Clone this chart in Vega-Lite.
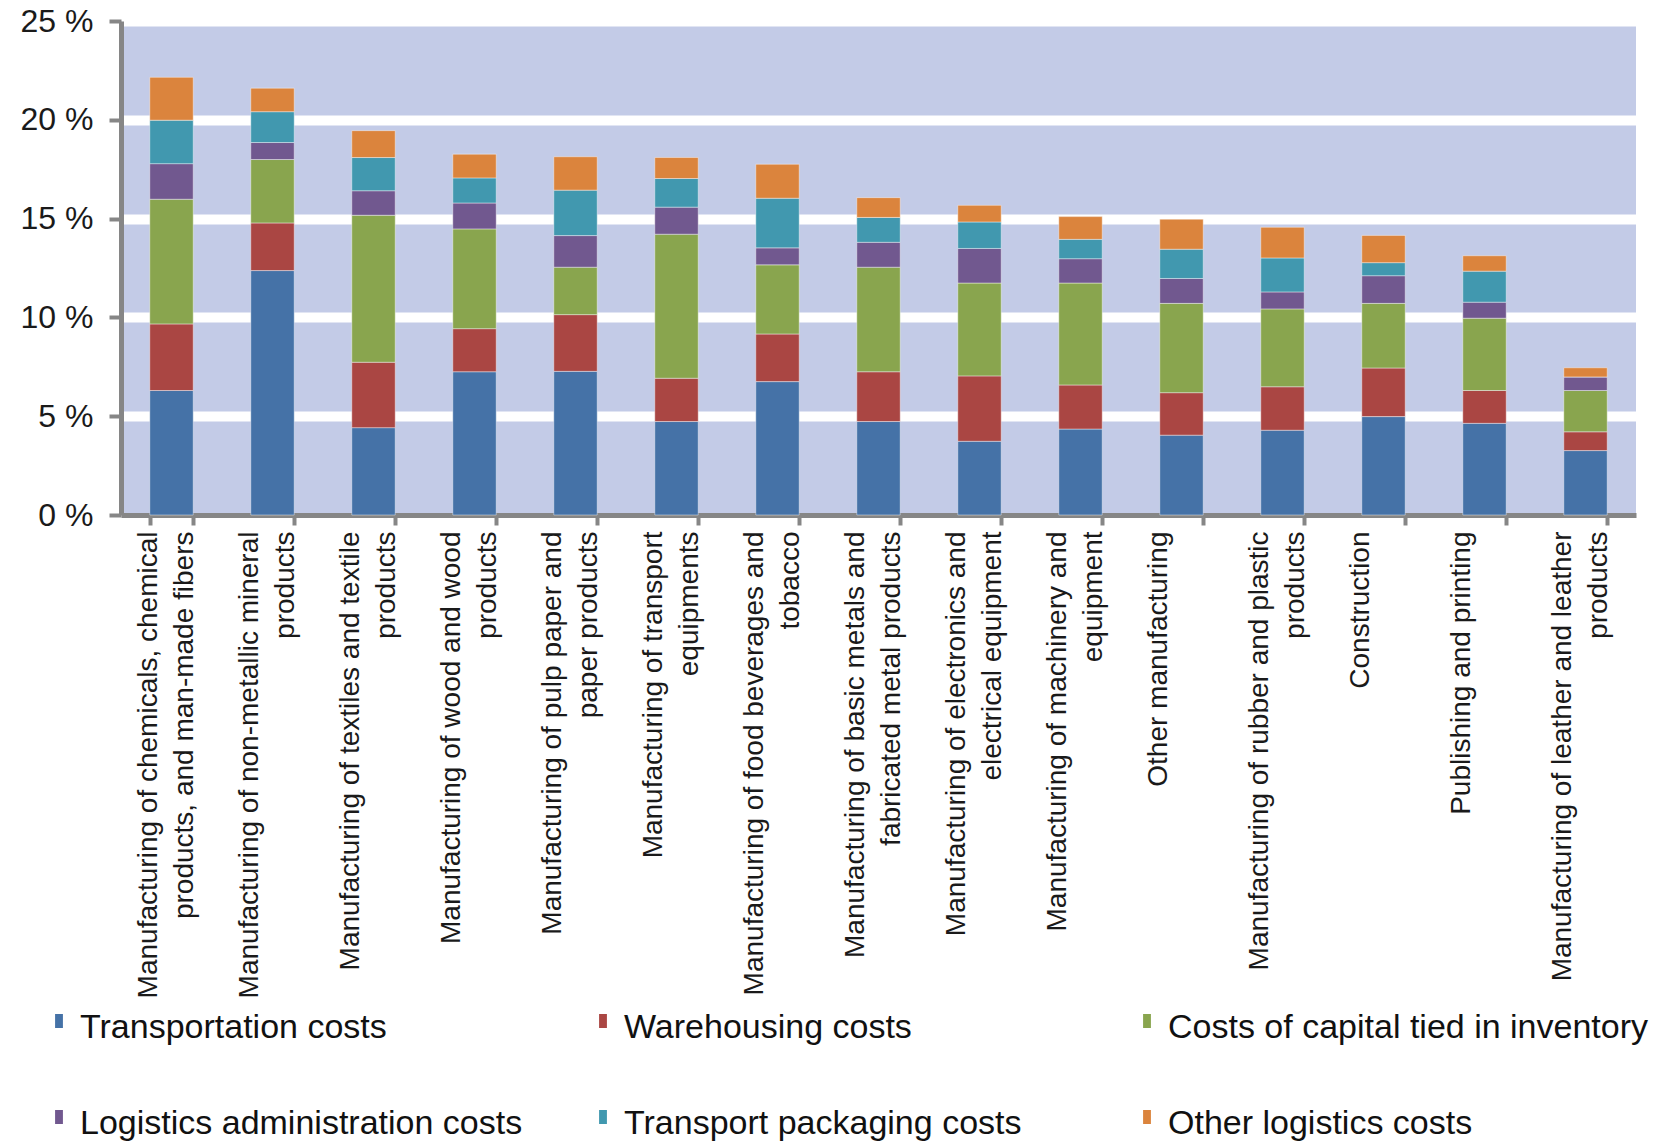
{
  "$schema": "https://vega.github.io/schema/vega-lite/v6.json",
  "autosize": {"type": "none"},
  "width": 1515,
  "height": 494,
  "padding": {"left": 121, "top": 21, "right": 37, "bottom": 630},
  "background": "#ffffff",
  "config": {
    "font": "Liberation Sans",
    "view": {"fill": "#C3CBE7", "stroke": null}
  },
  "datasets": {
    "stackorder": [
      {"cost": "Transportation costs", "rank": 1},
      {"cost": "Warehousing costs", "rank": 2},
      {"cost": "Costs of capital tied in inventory", "rank": 3},
      {"cost": "Logistics administration costs", "rank": 4},
      {"cost": "Transport packaging costs", "rank": 5},
      {"cost": "Other logistics costs", "rank": 6}
    ]
  },
  "data": {
    "values": [
      {"sector": "Manufacturing of chemicals, chemical\nproducts, and man-made fibers", "Transportation costs": 6.30, "Warehousing costs": 3.37, "Costs of capital tied in inventory": 6.31, "Logistics administration costs": 1.80, "Transport packaging costs": 2.20, "Other logistics costs": 2.17},
      {"sector": "Manufacturing of non-metallic mineral\nproducts", "Transportation costs": 12.37, "Warehousing costs": 2.41, "Costs of capital tied in inventory": 3.21, "Logistics administration costs": 0.86, "Transport packaging costs": 1.56, "Other logistics costs": 1.19},
      {"sector": "Manufacturing of textiles and textile\nproducts", "Transportation costs": 4.42, "Warehousing costs": 3.31, "Costs of capital tied in inventory": 7.44, "Logistics administration costs": 1.24, "Transport packaging costs": 1.68, "Other logistics costs": 1.36},
      {"sector": "Manufacturing of wood and wood\nproducts", "Transportation costs": 7.25, "Warehousing costs": 2.18, "Costs of capital tied in inventory": 5.05, "Logistics administration costs": 1.31, "Transport packaging costs": 1.27, "Other logistics costs": 1.20},
      {"sector": "Manufacturing of pulp paper and\npaper products", "Transportation costs": 7.27, "Warehousing costs": 2.87, "Costs of capital tied in inventory": 2.40, "Logistics administration costs": 1.60, "Transport packaging costs": 2.30, "Other logistics costs": 1.69},
      {"sector": "Manufacturing of transport\nequipments", "Transportation costs": 4.73, "Warehousing costs": 2.19, "Costs of capital tied in inventory": 7.29, "Logistics administration costs": 1.37, "Transport packaging costs": 1.45, "Other logistics costs": 1.06},
      {"sector": "Manufacturing of food beverages and\ntobacco", "Transportation costs": 6.75, "Warehousing costs": 2.41, "Costs of capital tied in inventory": 3.50, "Logistics administration costs": 0.86, "Transport packaging costs": 2.51, "Other logistics costs": 1.72},
      {"sector": "Manufacturing of basic metals and\nfabricated metal products", "Transportation costs": 4.73, "Warehousing costs": 2.52, "Costs of capital tied in inventory": 5.29, "Logistics administration costs": 1.26, "Transport packaging costs": 1.26, "Other logistics costs": 1.00},
      {"sector": "Manufacturing of electronics and\nelectrical equipment", "Transportation costs": 3.73, "Warehousing costs": 3.31, "Costs of capital tied in inventory": 4.70, "Logistics administration costs": 1.75, "Transport packaging costs": 1.34, "Other logistics costs": 0.84},
      {"sector": "Manufacturing of machinery and\nequipment", "Transportation costs": 4.35, "Warehousing costs": 2.23, "Costs of capital tied in inventory": 5.16, "Logistics administration costs": 1.23, "Transport packaging costs": 0.98, "Other logistics costs": 1.15},
      {"sector": "Other manufacturing", "Transportation costs": 4.04, "Warehousing costs": 2.15, "Costs of capital tied in inventory": 4.52, "Logistics administration costs": 1.26, "Transport packaging costs": 1.48, "Other logistics costs": 1.52},
      {"sector": "Manufacturing of rubber and plastic\nproducts", "Transportation costs": 4.29, "Warehousing costs": 2.20, "Costs of capital tied in inventory": 3.94, "Logistics administration costs": 0.86, "Transport packaging costs": 1.72, "Other logistics costs": 1.55},
      {"sector": "Construction", "Transportation costs": 4.98, "Warehousing costs": 2.46, "Costs of capital tied in inventory": 3.27, "Logistics administration costs": 1.40, "Transport packaging costs": 0.66, "Other logistics costs": 1.38},
      {"sector": "Publishing and printing", "Transportation costs": 4.64, "Warehousing costs": 1.66, "Costs of capital tied in inventory": 3.66, "Logistics administration costs": 0.81, "Transport packaging costs": 1.57, "Other logistics costs": 0.78},
      {"sector": "Manufacturing of leather and leather\nproducts", "Transportation costs": 3.26, "Warehousing costs": 0.95, "Costs of capital tied in inventory": 2.09, "Logistics administration costs": 0.69, "Transport packaging costs": 0, "Other logistics costs": 0.46}
    ]
  },
  "transform": [
    {"fold": ["Transportation costs", "Warehousing costs", "Costs of capital tied in inventory", "Logistics administration costs", "Transport packaging costs", "Other logistics costs"], "as": ["cost", "share"]},
    {"lookup": "cost", "from": {"data": {"name": "stackorder"}, "key": "cost", "fields": ["rank"]}}
  ],
  "mark": {"type": "bar", "stroke": "#ffffff", "strokeWidth": 0.7, "strokeOpacity": 0.6},
  "encoding": {
    "x": {
      "field": "sector",
      "type": "nominal",
      "sort": null,
      "scale": {"paddingInner": 0.57, "paddingOuter": 0.285},
      "axis": {
        "title": null,
        "labelAngle": -90,
        "labelExpr": "datum.value ? split(datum.value, '\\n') : ''",
        "labelFontSize": 28,
        "labelLineHeight": 36,
        "labelLimit": 800,
        "labelPadding": 6,
        "labelOffset": -23,
        "labelColor": "#1a1a1a",
        "labelOverlap": false,
        "labelBound": false,
        "labelFlush": false,
        "tickBand": "extent",
        "tickSize": 10,
        "tickWidth": 4,
        "tickColor": "#868686",
        "domainColor": "#868686",
        "domainWidth": 5
      }
    },
    "y": {
      "field": "share",
      "type": "quantitative",
      "stack": "zero",
      "scale": {"domain": [0, 25], "nice": false},
      "axis": {
        "title": null,
        "values": [0, 5, 10, 15, 20, 25],
        "labelExpr": "datum.value + ' %'",
        "labelFontSize": 32,
        "labelColor": "#1a1a1a",
        "labelPadding": 16,
        "tickSize": 12,
        "tickWidth": 4,
        "tickColor": "#868686",
        "domainColor": "#868686",
        "domainWidth": 5,
        "grid": true,
        "gridColor": "#ffffff",
        "gridOpacity": 1,
        "gridWidth": {"condition": {"test": "datum.value === 0", "value": 0}, "value": 10}
      }
    },
    "order": {"field": "rank", "type": "quantitative", "sort": "ascending"},
    "color": {
      "field": "cost",
      "type": "nominal",
      "sort": ["Transportation costs", "Warehousing costs", "Costs of capital tied in inventory", "Logistics administration costs", "Transport packaging costs", "Other logistics costs"],
      "scale": {
        "domain": ["Transportation costs", "Warehousing costs", "Costs of capital tied in inventory", "Logistics administration costs", "Transport packaging costs", "Other logistics costs"],
        "range": ["#4572A7", "#AA4643", "#89A54E", "#71588F", "#4198AF", "#DB843D"]
      },
      "legend": {
        "title": null,
        "orient": "none",
        "legendX": -79,
        "legendY": 990,
        "direction": "horizontal",
        "columns": 3,
        "gridAlign": "all",
        "columnPadding": 25,
        "rowPadding": 62,
        "padding": 0,
        "labelFontSize": 34,
        "labelColor": "#111111",
        "labelLimit": 0,
        "labelOffset": 4,
        "symbolType": "M-0.28,-1 L0.28,-1 L0.28,0 L-0.28,0 Z",
        "symbolSize": 784,
        "symbolStrokeWidth": 0,
        "symbolOpacity": 1
      }
    }
  }
}
